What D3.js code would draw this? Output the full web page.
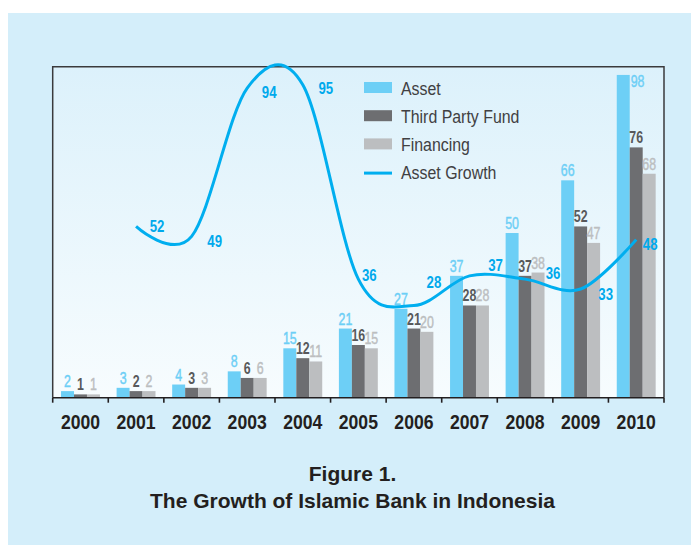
<!DOCTYPE html>
<html>
<head>
<meta charset="utf-8">
<script src="https://cdn.jsdelivr.net/npm/d3@7"></script>
<style>
  body { margin: 0; background: #fff; }
  text { font-family: "Liberation Sans", Arial, sans-serif; }
  .cap { font-weight: bold; fill: #231f20; }
</style>
</head>
<body>
<div id="chart"></div>
<script>
const years = ["2000", "2001", "2002", "2003", "2004", "2005", "2006", "2007", "2008", "2009", "2010"];
const seriesNames = ["Asset", "Third Party Fund", "Financing"];
const asset = [2, 3, 4, 8, 15, 21, 27, 37, 50, 66, 98];
const thirdPartyFund = [1, 2, 3, 6, 12, 16, 21, 28, 37, 52, 76];
const financing = [1, 2, 3, 6, 11, 15, 20, 28, 38, 47, 68];
const growthYears = ["2001", "2002", "2003", "2004", "2005", "2006", "2007", "2008", "2009", "2010"];
const assetGrowth = [52, 49, 94, 95, 36, 28, 37, 36, 33, 48];

// label nudges for the growth numbers (layout only)
const growthLabelDx = [21, 23, 22, 23, 11, 20, 26, 28, 25, 14];
const growthLabelDy = [6, 11, 10, 9, 2, -17, -5, 0, 11, 10];

const colors = { "Asset": "#6dcff6", "Third Party Fund": "#6d6e71", "Financing": "#bcbec0" };
const labelColors = { "Asset": "#6dcff6", "Third Party Fund": "#58595b", "Financing": "#bcbec0" };
const labelWeight = { "Asset": "normal", "Third Party Fund": "bold", "Financing": "normal" };
const lineColor = "#00aeef";

const W = 691, H = 545;
const plot = { left: 52.7, right: 664, top: 66.7, bottom: 397.7 };

// narrow look: squeeze Liberation Sans horizontally
const place = (x, y, sx) => `translate(${x},${y}) scale(${sx},1)`;

const svg = d3.select("#chart").append("svg")
    .attr("width", W).attr("height", H)
    .attr("viewBox", `0 0 ${W} ${H}`);

const defs = svg.append("defs");
const grad = defs.append("linearGradient").attr("id", "plotbg")
    .attr("x1", 0).attr("y1", 0).attr("x2", 0).attr("y2", 1);
grad.append("stop").attr("offset", "0%").attr("stop-color", "#dcf1fb");
grad.append("stop").attr("offset", "100%").attr("stop-color", "#f7fcfe");

// outer panel
svg.append("rect").attr("x", 8).attr("y", 13).attr("width", W - 8).attr("height", H - 13)
    .attr("fill", "#d4eefa");

svg.append("rect")
    .attr("x", plot.left).attr("y", plot.top)
    .attr("width", plot.right - plot.left).attr("height", plot.bottom - plot.top)
    .attr("fill", "url(#plotbg)");

const x0 = d3.scaleBand().domain(years).range([plot.left, plot.right])
    .paddingInner(0.3).paddingOuter(0.15);
const x1 = d3.scaleBand().domain(seriesNames).range([0, x0.bandwidth()]);
const y = d3.scaleLinear().domain([0, 100.5]).range([plot.bottom, plot.top]);

const rows = years.map((yr, i) => ({
    year: yr,
    values: [
        { key: "Asset", value: asset[i] },
        { key: "Third Party Fund", value: thirdPartyFund[i] },
        { key: "Financing", value: financing[i] }
    ]
}));

// frame: left, top, right
svg.append("path")
    .attr("d", `M${plot.left},${plot.bottom}V${plot.top}H${plot.right}V${plot.bottom}`)
    .attr("fill", "none").attr("stroke", "#3a3a3c").attr("stroke-width", 1.5);

const groups = svg.selectAll(".grp").data(rows).enter().append("g")
    .attr("class", "grp")
    .attr("transform", d => `translate(${x0(d.year)},0)`);

groups.selectAll("rect").data(d => d.values).enter().append("rect")
    .attr("x", d => x1(d.key))
    .attr("y", d => y(d.value))
    .attr("width", x1.bandwidth())
    .attr("height", d => plot.bottom - y(d.value))
    .attr("fill", d => colors[d.key]);

groups.selectAll("text").data(d => d.values).enter().append("text")
    .attr("font-weight", d => labelWeight[d.key])
    .attr("font-size", 16.5)
    .attr("fill", d => labelColors[d.key])
    .attr("stroke", d => labelWeight[d.key] === "normal" ? labelColors[d.key] : "none")
    .attr("stroke-width", 0.45)
    .each(function(d) {
        const t = d3.select(this);
        const top = y(d.value);
        if (top - 16 < plot.top) {
            t.attr("transform", place(x1(d.key) + x1.bandwidth() + 1, top + 12, 0.75))
                .attr("text-anchor", "start");
        } else {
            t.attr("transform", place(x1(d.key) + x1.bandwidth() / 2, top - 4, 0.75))
                .attr("text-anchor", "middle");
        }
    })
    .text(d => d.value);

// x axis
const xAxis = svg.append("g");
xAxis.append("line")
    .attr("x1", plot.left).attr("x2", plot.right)
    .attr("y1", plot.bottom).attr("y2", plot.bottom)
    .attr("stroke", "#231f20").attr("stroke-width", 1.6);
const tickPos = years.map(yr => x0(yr) - x0.step() * x0.paddingInner() / 2);
tickPos[0] = plot.left;
tickPos.push(plot.right);
xAxis.selectAll(".tick").data(tickPos).enter().append("line")
    .attr("x1", d => d).attr("x2", d => d)
    .attr("y1", plot.bottom).attr("y2", plot.bottom + 5)
    .attr("stroke", "#231f20").attr("stroke-width", 1.6);
xAxis.selectAll(".yl").data(years).enter().append("text")
    .attr("transform", d => place(x0(d) + x0.bandwidth() / 2, 429, 0.86))
    .attr("text-anchor", "middle")
    .attr("font-weight", "bold").attr("font-size", 20.5)
    .attr("fill", "#231f20")
    .text(d => d);

// growth line
const gx = yr => x0(yr) + x0.bandwidth() / 2;
const line = d3.line()
    .x((d, i) => gx(growthYears[i]))
    .y(d => y(d))
    .curve(d3.curveCardinal.tension(0));
svg.append("path").datum(assetGrowth)
    .attr("d", line)
    .attr("fill", "none").attr("stroke", lineColor).attr("stroke-width", 3)
    .attr("stroke-linecap", "butt");

svg.selectAll(".gl").data(assetGrowth).enter().append("text")
    .attr("transform", (d, i) => place(gx(growthYears[i]) + growthLabelDx[i], y(d) + growthLabelDy[i], 0.8))
    .attr("text-anchor", "middle")
    .attr("font-weight", "bold").attr("font-size", 16.5)
    .attr("fill", "#00a9ec")
    .text(d => d);

// legend
const legendItems = seriesNames.concat(["Asset Growth"]);
const legend = svg.append("g").attr("transform", "translate(364,88)");
legendItems.forEach((name, i) => {
    const g = legend.append("g").attr("transform", `translate(0,${i * 28.2})`);
    if (name === "Asset Growth") {
        g.append("line").attr("x1", 0).attr("x2", 28).attr("y1", 0.5).attr("y2", 0.5)
            .attr("stroke", lineColor).attr("stroke-width", 3);
    } else {
        g.append("rect").attr("x", 0).attr("y", -6).attr("width", 28).attr("height", 11)
            .attr("fill", colors[name]);
    }
    g.append("text")
        .attr("transform", place(37, 6.7, 0.86))
        .attr("font-size", 18.5).attr("fill", "#414042")
        .text(name);
});

// caption
svg.append("text").attr("class", "cap").attr("x", 352.5).attr("y", 480.5)
    .attr("text-anchor", "middle").attr("font-size", 21).text("Figure 1.");
svg.append("text").attr("class", "cap").attr("x", 352.5).attr("y", 507.5)
    .attr("text-anchor", "middle").attr("font-size", 21).text("The Growth of Islamic Bank in Indonesia");
</script>
</body>
</html>
